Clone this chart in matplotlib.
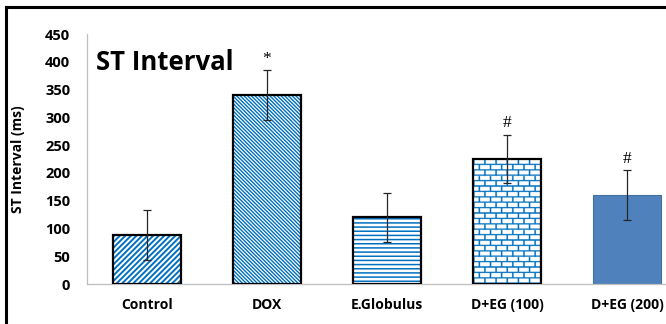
import matplotlib
matplotlib.use("Agg")
import matplotlib.pyplot as plt
from matplotlib.lines import Line2D
import numpy as np

groups = ["Control", "DOX", "E.Globulus", "D+EG (100)", "D+EG (200)"]
means = [88, 340, 120, 225, 160]
errs = [45, 45, 44, 44, 45]
marks = ["", "*", "", "#", "#"]

BLUE = "#0070C0"
SOLID = "#4F81BD"

plt.rcParams["font.family"] = ["Open Sans", "DejaVu Sans"]

W, H = 666, 324
fig = plt.figure(figsize=(W / 100, H / 100), dpi=100)
# axes run off the right edge, like the cropped original
ax = fig.add_axes([87 / W, 40 / H, 600 / W, 250 / H])
ax.set_xlim(-0.5, 4.5)
ax.set_ylim(0, 450)

x = np.arange(len(groups))
bw = 0.567

# hatch fills (blue hatch lines, no edge), then black outlines on top
hatches = ["//////", "\\" * 9, "----", None, None]
hatch_lw = [1.4, 1.0, 1.1, 1.0, 1.0]
for i in range(len(groups)):
    if i == 4:
        ax.bar(x[i], means[i], bw, color=SOLID, edgecolor="#41719C", linewidth=0.8, zorder=2)
        continue
    if hatches[i]:
        with plt.rc_context({"hatch.linewidth": hatch_lw[i]}):
            b = ax.bar(x[i], means[i], bw, color="white", edgecolor=BLUE,
                       hatch=hatches[i], linewidth=0, zorder=2)
            if hasattr(b[0], "set_hatch_linewidth"):
                b[0].set_hatch_linewidth(hatch_lw[i])
    else:
        # brick pattern as a clipped image
        b = ax.bar(x[i], means[i], bw, color="white", linewidth=0, zorder=2)
        pxx = 600 / 5.0   # px per category unit
        pxy = 250 / 450   # px per ms
        nx = int(bw * pxx * 4)
        ny = int(means[i] * pxy * 4)
        gx, gy = np.meshgrid(np.arange(nx) / 4.0, np.arange(ny) / 4.0)
        row_h, brick_w, t = 5.4, 11.0, 1.3
        row = np.floor(gy / row_h)
        hline = (gy % row_h) < t
        shift = np.where(row % 2 == 0, 0, brick_w / 2)
        vline = ((gx + shift) % brick_w) < t
        mask = hline | vline
        img = np.ones((ny, nx, 3))
        rgb = np.array([0, 112, 192]) / 255
        img[mask] = rgb
        im = ax.imshow(img[::-1], extent=[x[i] - bw / 2, x[i] + bw / 2, 0, means[i]],
                       aspect="auto", interpolation="antialiased", zorder=2)
        im.set_clip_path(b[0])
    ax.bar(x[i], means[i], bw, fill=False, edgecolor="black", linewidth=1.6, zorder=3)

ax.set_xlim(-0.5, 4.5)
ax.set_ylim(0, 450)

ax.errorbar(x, means, yerr=errs, fmt="none", ecolor="#262626", elinewidth=0.9,
            capsize=3, capthick=0.9, zorder=4)

for i, m in enumerate(marks):
    if m:
        ax.text(x[i], means[i] + errs[i] + 6, m, ha="center", va="bottom",
                fontsize=12.5, family=["Liberation Serif"], zorder=5)

ax.set_yticks(np.arange(0, 451, 50))
ax.tick_params(axis="y", length=0, pad=12, labelsize=10.5)
ax.tick_params(axis="x", length=0, pad=10, labelsize=10)
ax.set_xticks(x)
ax.set_xticklabels(groups)
for lab in ax.get_xticklabels() + ax.get_yticklabels():
    lab.set_fontweight("bold")

for s in ["top", "right"]:
    ax.spines[s].set_visible(False)
ax.spines["left"].set_color("#BFBFBF")
ax.spines["bottom"].set_color("#BFBFBF")
ax.spines["left"].set_linewidth(0.9)
ax.spines["bottom"].set_linewidth(0.9)

ax.set_ylabel("ST Interval (ms)", fontsize=10, fontweight="bold")
ax.yaxis.set_label_coords(-0.103, 0.5)

fig.text(96 / W, 1 - 70 / H, "ST Interval", fontsize=18.5, fontweight="bold",
         ha="left", va="baseline")

# outer frame (only top and left survive the crop)
fig.add_artist(Line2D([6 / W, 6 / W], [0, 1 - 7 / H], color="black", lw=2.2,
                      transform=fig.transFigure))
fig.add_artist(Line2D([6 / W, 1], [1 - 7 / H, 1 - 7 / H], color="black", lw=2.2,
                      transform=fig.transFigure))

fig.savefig("out.png", dpi=100)
